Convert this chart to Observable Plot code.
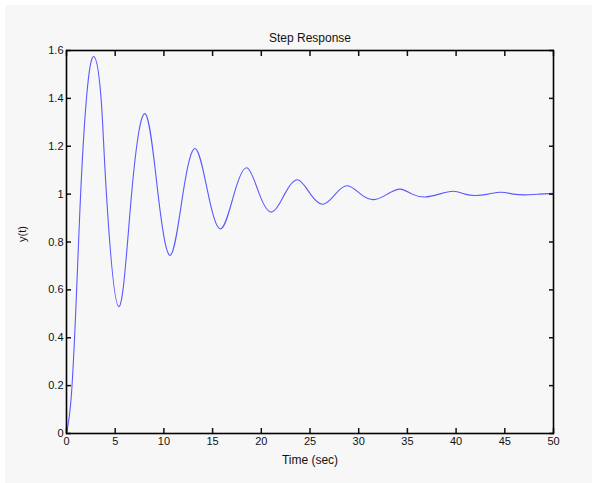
<!DOCTYPE html>
<html>
<head>
<meta charset="utf-8">
<script src="https://cdn.jsdelivr.net/npm/d3@7"></script>
<script src="https://cdn.jsdelivr.net/npm/@observablehq/plot@0.6"></script>
<style>
  html, body { margin: 0; padding: 0; background: #ffffff; }
  #wrap { padding: 5px 0 0 5px; width: 587px; height: 478px; }
  svg { display: block; background: #f7f7f7; }
</style>
</head>
<body>
<div id="wrap"></div>
<script>
const titleText = "Step Response";
const xLabel = "Time (sec)";
const yLabel = "y(t)";
const xTicks = [0, 5, 10, 15, 20, 25, 30, 35, 40, 45, 50];
const yTicks = [0, 0.2, 0.4, 0.6, 0.8, 1, 1.2, 1.4, 1.6];
const yTickLabels = ["0", "0.2", "0.4", "0.6", "0.8", "1", "1.2", "1.4", "1.6"];

// points (time in sec, response)
const time = [0, 0.5, 1.0, 1.45, 2.05, 2.8, 3.55, 4.1, 5.37, 6.68, 8.1, 9.4, 10.68, 11.95, 13.24, 14.55, 15.85, 17.2, 18.52, 19.8, 21.1, 22.4, 23.72, 25.05, 26.35, 27.6, 28.85, 30.2, 31.55, 32.95, 34.25, 35.5, 36.8, 38.25, 39.7, 40.9, 42.0, 43.3, 44.6, 45.9, 47.2, 48.6, 50];
const response = [0, 0.16, 0.56, 1.0, 1.4, 1.575, 1.4, 1.0, 0.53, 1.0, 1.335, 1.0, 0.745, 1.0, 1.19, 1.0, 0.855, 1.0, 1.11, 1.0, 0.925, 1.0, 1.06, 1.0, 0.958, 1.0, 1.035, 1.0, 0.977, 1.0, 1.021, 1.0, 0.988, 1.0, 1.012, 1.0, 0.994, 1.0, 1.008, 1.0, 0.997, 1.0, 1.003];

const data = time.map((t, i) => ({t, y: response[i]}));
const fmtY = d => yTickLabels[yTicks.indexOf(d)] ?? String(d);

const chart = Plot.plot({
  width: 587,
  height: 478,
  marginLeft: 61,
  marginRight: 39,
  marginTop: 45,
  marginBottom: 50,
  style: {fontFamily: "'Liberation Sans', Arial, sans-serif", fontSize: "11px", color: "#111", background: "#f7f7f7"},
  x: {domain: [0, 50]},
  y: {domain: [0, 1.6]},
  marks: [
    Plot.line(data, {x: "t", y: "y", stroke: "#5a5aff", strokeWidth: 1.1, curve: "natural"}),
    // tick labels
    Plot.axisX({anchor: "bottom", ticks: xTicks, tickSize: 0, tickPadding: 4, tickFormat: d => String(d), label: null, fontSize: 11}),
    Plot.axisY({anchor: "left", ticks: yTicks, tickSize: 0, tickPadding: 3, tickFormat: fmtY, label: null, fontSize: 11}),
    // inward ticks on all four sides
    Plot.axisX({anchor: "bottom", ticks: xTicks, tickSize: -5, fill: "none", label: null, strokeWidth: 1.5}),
    Plot.axisX({anchor: "top", ticks: xTicks, tickSize: -5, fill: "none", label: null, strokeWidth: 1.5}),
    Plot.axisY({anchor: "left", ticks: yTicks, tickSize: -5, fill: "none", label: null, strokeWidth: 1.5}),
    Plot.axisY({anchor: "right", ticks: yTicks, tickSize: -5, fill: "none", label: null, strokeWidth: 1.5}),
    Plot.frame({stroke: "#000", strokeWidth: 1.6}),
    Plot.text([titleText], {frameAnchor: "top", dy: -17, fontSize: 12, fill: "#111"}),
    Plot.text([xLabel], {frameAnchor: "bottom", dy: 30, fontSize: 12, fill: "#111"}),
    Plot.text([yLabel], {frameAnchor: "left", dx: -44, rotate: -90, fontSize: 11, fill: "#111"})
  ]
});
document.getElementById("wrap").appendChild(chart);
</script>
</body>
</html>
